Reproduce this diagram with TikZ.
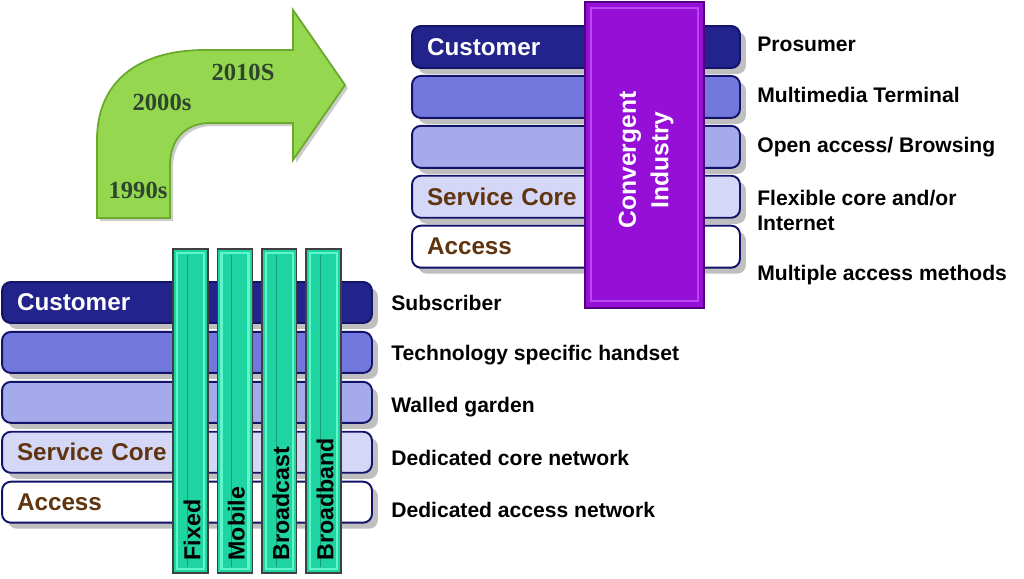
\documentclass[tikz,border=0pt]{standalone}
\usepackage{fontspec}
\setmainfont{Liberation Sans}
\newfontfamily\yearfont{Liberation Serif}
\usetikzlibrary{positioning,shadows}

\definecolor{layline}{RGB}{18,18,105}
\definecolor{layA}{RGB}{35,35,140}
\definecolor{layB}{RGB}{115,120,220}
\definecolor{layC}{RGB}{165,170,235}
\definecolor{layD}{RGB}{212,215,246}
\definecolor{laytext}{RGB}{95,52,15}
\definecolor{tealmid}{RGB}{30,212,160}
\definecolor{tealedge}{RGB}{20,160,120}
\definecolor{teallight}{RGB}{95,245,205}
\definecolor{conv}{RGB}{150,15,215}
\definecolor{convlight}{RGB}{185,70,240}
\definecolor{convdark}{RGB}{85,0,130}
\definecolor{arrowgreen}{RGB}{150,215,80}
\definecolor{arrowedge}{RGB}{105,170,45}
\definecolor{yeartext}{RGB}{45,70,45}

\begin{document}
\begin{tikzpicture}[x=0.02cm, y=-0.02cm, font=\bfseries]
  \useasboundingbox (0,0) rectangle (1024,578);
  \tikzset{
    layer/.style={draw=layline, line width=1.1pt, rounded corners=5pt, fill=#1,
                  minimum height=0.82cm, inner xsep=0.3cm, inner ysep=0pt,
                  align=left, font=\fontsize{13.8}{15}\selectfont\bfseries,
                  drop shadow={shadow xshift=0.12cm, shadow yshift=-0.12cm,
                               fill=black!25, opacity=1}},
    wide/.style={layer=#1, text width=6.8cm},
    slim/.style={layer=#1, text width=5.96cm, minimum height=0.84cm},
    techbar/.style={draw=black!75, line width=0.8pt, minimum width=0.7cm,
                    minimum height=6.48cm, inner sep=0pt, fill=tealmid,
                    path picture={
                      \draw[teallight, line width=1.4pt]
                        ([xshift=0.08cm,yshift=0.08cm]path picture bounding box.south west)
                        rectangle ([xshift=-0.08cm,yshift=-0.08cm]path picture bounding box.north east);
                      \draw[tealedge, line width=0.6pt]
                        ([xshift=-0.06cm,yshift=0.12cm]path picture bounding box.south)
                        -- ([xshift=-0.06cm,yshift=-0.12cm]path picture bounding box.north);}},
    vtext/.style={rotate=90, anchor=west, inner sep=0pt,
                  font=\fontsize{13.2}{15}\selectfont\bfseries},
    note/.style={anchor=west, inner sep=0pt, align=left,
                 font=\fontsize{12}{14.2}\selectfont\bfseries},
    year/.style={text=yeartext, font=\yearfont\bfseries\fontsize{14}{16}\selectfont}
  }

  % the bent arrow of the decades
  \path[fill=arrowgreen, draw=arrowedge, line width=1pt,
        drop shadow={shadow xshift=0.06cm, shadow yshift=-0.06cm, fill=black!20, opacity=1}]
    (97,218) -- (97,140) .. controls (97,80) and (140,50) .. (205,50) -- (293,50)
    -- (293,10) -- (345,85) -- (293,160) -- (293,123) -- (210,123)
    .. controls (185,123) and (170,140) .. (170,165) -- (170,218) -- cycle;
  \node[year] (y1990) at (138,190) {1990s};
  \node[year] (y2000) at (162,102) {2000s};
  \node[year] (y2010) at (243,72)  {2010S};

  % old stack: one silo per technology
  \node[wide=layA, text=white] (b1) at (187,302.5) {Customer};
  \node[wide=layB,  below=0.14cm of b1] (b2) {};
  \node[wide=layC,  below=0.14cm of b2] (b3) {};
  \node[wide=layD,  below=0.14cm of b3, text=laytext] (b4) {Service Core};
  \node[wide=white, below=0.14cm of b4, text=laytext] (b5) {Access};

  \node[techbar] (f1) at (190.5,411) {};
  \node[techbar, right=0.16cm of f1] (f2) {};
  \node[techbar, right=0.16cm of f2] (f3) {};
  \node[techbar, right=0.16cm of f3] (f4) {};
  \node[vtext] (t1) at ([xshift=0.03cm,yshift=0.26cm]f1.south) {Fixed};
  \node[vtext] (t2) at ([xshift=0.03cm,yshift=0.26cm]f2.south) {Mobile};
  \node[vtext] (t3) at ([xshift=0.03cm,yshift=0.26cm]f3.south) {Broadcast};
  \node[vtext] (t4) at ([xshift=0.03cm,yshift=0.26cm]f4.south) {Broadband};

  \node[note] (n1) at (391,303) {Subscriber};
  \node[note] (n2) at (391,355) {Technology specific handset};
  \node[note] (n3) at (391,407) {Walled garden};
  \node[note] (n4) at (391,458) {Dedicated core network};
  \node[note] (n5) at (391,510) {Dedicated access network};

  % new stack: one convergent industry
  \node[slim=layA, text=white] (a1) at (576,47) {Customer};
  \node[slim=layB,  below=0.12cm of a1] (a2) {};
  \node[slim=layC,  below=0.12cm of a2] (a3) {};
  \node[slim=layD,  below=0.12cm of a3, text=laytext] (a4) {Service Core};
  \node[slim=white, below=0.12cm of a4, text=laytext] (a5) {Access};

  \node[fill=conv, draw=convdark, line width=1pt, minimum width=2.38cm,
        minimum height=6.12cm, inner sep=0pt,
        path picture={\draw[convlight, line width=1pt]
          ([xshift=0.12cm,yshift=0.14cm]path picture bounding box.south west)
          rectangle ([xshift=-0.12cm,yshift=-0.12cm]path picture bounding box.north east);}]
        (cv) at (644.5,155) {};
  \node[rotate=90, text=white, align=center, inner sep=0pt,
        font=\fontsize{14}{18.5}\selectfont\bfseries] (cvtext) at (646,160)
        {Convergent\\Industry};

  \node[note] (m1) at (757,44)    {Prosumer};
  \node[note] (m2) at (757,95)    {Multimedia Terminal};
  \node[note] (m3) at (757,147)   {Open access/ Browsing};
  \node[note] (m4) at (757,210.5) {Flexible core and/or\\Internet};
  \node[note] (m5) at (757,275)   {Multiple access methods};
\end{tikzpicture}
\end{document}
